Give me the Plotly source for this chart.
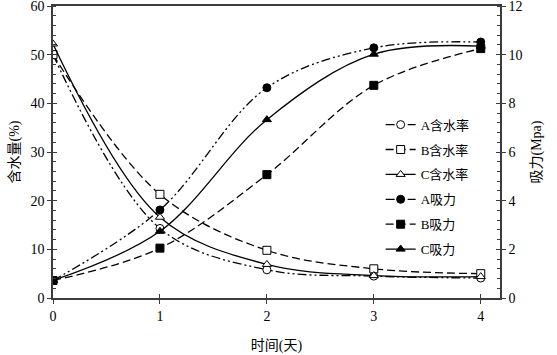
import plotly.graph_objects as go

days = [0, 1, 2, 3, 4]
wc_A = [50.0, 14.3, 5.8, 4.5, 4.1]
wc_B = [50.0, 21.3, 9.8, 6.0, 5.0]
wc_C = [52.2, 16.6, 6.9, 4.6, 4.4]
suc_A = [0.72, 3.62, 8.64, 10.28, 10.52]
suc_B = [0.72, 2.05, 5.07, 8.74, 10.25]
suc_C = [0.72, 2.74, 7.33, 10.02, 10.35]

xticks = [0, 1, 2, 3, 4]

FONT = "Liberation Serif, Times New Roman, Noto Sans CJK SC"
BLACK = "#000000"
AX = "#3c3c3c"
dd = "9px,3px,2px,3px,2px,3px"
dash = "8px,4px"

fig = go.Figure()

def add(name, x, y, dsh, sym, size, fill, axis):
    fig.add_trace(go.Scatter(
        x=x, y=y, name=name, mode="lines+markers", yaxis=axis,
        legendgroup=name,
        line=dict(color=BLACK, width=1.3, dash=dsh, shape="spline", smoothing=1.0),
        marker=dict(symbol=sym, size=size, color=fill,
                    line=dict(color=BLACK, width=1)),
    ))

add("A含水率", days, wc_A, dd, "circle", 8, "white", "y")
add("B含水率", days, wc_B, dash, "square", 8, "white", "y")
add("C含水率", days, wc_C, "solid", "triangle-up", 8, "white", "y")
add("A吸力", days, suc_A, dd, "circle", 8, BLACK, "y2")
add("B吸力", days, suc_B, dash, "square", 8, BLACK, "y2")
add("C吸力", days, suc_C, "solid", "triangle-up", 8, BLACK, "y2")

XR = [0, 4.18]
fig.update_layout(
    width=557, height=355,
    margin=dict(l=53, r=57, t=6, b=57),
    paper_bgcolor="white", plot_bgcolor="white",
    font=dict(family=FONT, size=14, color=BLACK),
    showlegend=True,
    legend=dict(x=0.733, y=0.645, xanchor="left", yanchor="top",
                bgcolor="rgba(0,0,0,0)", font=dict(size=13, family=FONT),
                tracegroupgap=5, itemwidth=30),
    xaxis=dict(range=XR, tickvals=xticks, ticktext=[str(v) for v in xticks],
               automargin=False,
               showgrid=False, zeroline=False, showline=True, linecolor=AX, linewidth=1.5,
               mirror=True, ticks="outside", ticklen=4, tickcolor=AX,
               title=dict(text="时间(天)", font=dict(size=14), standoff=18)),
    yaxis=dict(range=[0, 60], dtick=10, showgrid=False, zeroline=False,
               automargin=False, ticklabeloverflow="allow",
               showline=True, linecolor=AX, linewidth=1.5,
               ticks="outside", ticklen=4, tickcolor=AX,
               minor=dict(dtick=2, ticks="inside", ticklen=3, tickcolor=AX, showgrid=False),
               title=dict(text="含水量(%)", font=dict(size=14), standoff=8)),
    yaxis2=dict(range=[0, 12], dtick=2, overlaying="y", side="right", showgrid=False,
                automargin=False, ticklabeloverflow="allow",
                zeroline=False, showline=True, linecolor=AX, linewidth=1.5,
                ticks="outside", ticklen=4, tickcolor=AX,
                minor=dict(dtick=0.4, ticks="inside", ticklen=3, tickcolor=AX, showgrid=False),
                title=dict(text="吸力(Mpa)", font=dict(size=14), standoff=10)),
    # overlay axes to give the major ticks their inner half
    xaxis2=dict(range=XR, tickvals=xticks, overlaying="x", side="bottom", anchor="y",
                automargin=False,
                showticklabels=False, ticks="inside", ticklen=4, tickcolor=AX,
                showgrid=False, zeroline=False, showline=False),
    yaxis3=dict(range=[0, 60], dtick=10, overlaying="y", side="left", anchor="x",
                automargin=False,
                showticklabels=False, ticks="inside", ticklen=4, tickcolor=AX,
                showgrid=False, zeroline=False, showline=False),
    yaxis4=dict(range=[0, 12], dtick=2, overlaying="y", side="right", anchor="x",
                automargin=False,
                showticklabels=False, ticks="inside", ticklen=4, tickcolor=AX,
                showgrid=False, zeroline=False, showline=False),
)

# invisible traces to activate the overlay axes
fig.add_trace(go.Scatter(x=[None], y=[None], xaxis="x2", yaxis="y3", showlegend=False, hoverinfo="skip"))
fig.add_trace(go.Scatter(x=[None], y=[None], xaxis="x2", yaxis="y4", showlegend=False, hoverinfo="skip"))

fig.write_html("out.html", config={"displayModeBar": False},
               post_script="document.body.style.margin='0';document.body.style.padding='0';")
